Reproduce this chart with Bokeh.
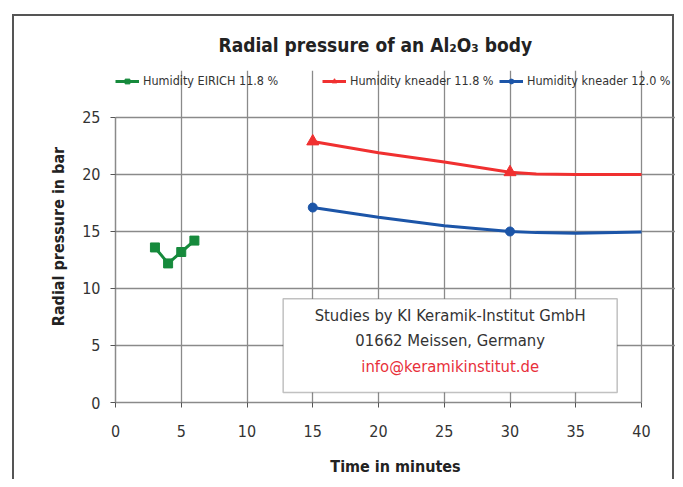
from bokeh.plotting import figure
from bokeh.models import (Legend, LegendItem, BoxAnnotation, Label, Range1d,
                          FixedTicker)
from bokeh.embed import file_html
from bokeh.resources import INLINE

# ---- data ----
eirich_x = [3, 4, 5, 6]
eirich_y = [13.6, 12.2, 13.2, 14.2]

kn118_line_x = [15, 20, 25, 30, 32, 35, 40]
kn118_line_y = [22.9, 21.9, 21.1, 20.2, 20.05, 20.0, 20.0]
kn118_mark_x = [15, 30]
kn118_mark_y = [22.9, 20.2]

kn120_line_x = [15, 20, 25, 30, 32, 35, 40]
kn120_line_y = [17.1, 16.25, 15.5, 15.0, 14.9, 14.85, 14.95]
kn120_mark_x = [15, 30]
kn120_mark_y = [17.1, 15.0]

x_ticks = [0, 5, 10, 15, 20, 25, 30, 35, 40]
y_ticks = [0, 5, 10, 15, 20, 25]
x_max = 40
y_max = 25

FONT = "DejaVu Sans Condensed"
GREEN = "#168a3c"
RED = "#f03030"
BLUE = "#1c55a8"
GRID = "#8a8a8a"

# frame extends above y=25 and right of x=40 to hold the legend row
# (grid and axes are bounded to the data area)
p = figure(width=675, height=479, output_backend="svg", toolbar_location=None,
           x_range=Range1d(0, 42.585), y_range=Range1d(0, 29.12),
           min_border_left=115, min_border_right=0,
           min_border_top=70, min_border_bottom=77,
           title="Radial pressure of an Al\u2082O\u2083 body")

p.title.text_font = FONT
p.title.text_font_size = "19px"
p.title.text_font_style = "bold"
p.title.text_color = "#222222"
p.title.align = "left"
p.title.offset = 103
p.title.standoff = 30

p.outline_line_color = None
p.background_fill_alpha = 0
p.border_fill_alpha = 0
p.styles = {
    "background": "linear-gradient(#555,#555) 12px 14px / 2px 100% no-repeat, "
                  "linear-gradient(#555,#555) 12px 14px / 662px 2px no-repeat, "
                  "linear-gradient(#555,#555) 672px 14px / 2px 100% no-repeat, "
                  "white",
}

for ax in (p.xaxis[0], p.yaxis[0]):
    ax.axis_line_color = GRID
    ax.axis_line_width = 1.5
    ax.major_tick_line_color = "#555555"
    ax.major_tick_out = 5
    ax.major_tick_in = 0
    ax.minor_tick_line_color = None
    ax.major_label_text_font = FONT
    ax.major_label_text_font_size = "16px"
    ax.major_label_text_color = "#333333"
    ax.axis_label_text_font = FONT
    ax.axis_label_text_font_style = "bold"
    ax.axis_label_text_font_size = "16px"
    ax.axis_label_text_color = "#222222"

p.xaxis.bounds = (0, x_max)
p.yaxis.bounds = (0, y_max)
p.xaxis.ticker = FixedTicker(ticks=x_ticks)
p.yaxis.ticker = FixedTicker(ticks=y_ticks)
p.xaxis.axis_label = "Time in minutes"
p.yaxis.axis_label = "Radial pressure in bar"
p.xaxis.major_label_standoff = 17
p.yaxis.major_label_standoff = 10
p.xaxis.axis_label_standoff = 17
p.yaxis.axis_label_standoff = 11

p.xgrid.ticker = FixedTicker(ticks=x_ticks)
p.ygrid.ticker = FixedTicker(ticks=y_ticks)
p.xgrid.bounds = (0, y_max)
p.ygrid.bounds = (0, x_max)
for g in (p.xgrid[0], p.ygrid[0]):
    g.grid_line_color = GRID
    g.grid_line_width = 1.3

# ---- series ----
g_line = p.line(eirich_x, eirich_y, line_color=GREEN, line_width=3)
g_mark = p.scatter(eirich_x, eirich_y, marker="square", size=9,
                   fill_color=GREEN, line_color=GREEN)

r_line = p.line(kn118_line_x, kn118_line_y, line_color=RED, line_width=3)
r_mark = p.scatter(kn118_mark_x, kn118_mark_y, marker="triangle", size=12,
                   fill_color=RED, line_color=RED)

b_line = p.line(kn120_line_x, kn120_line_y, line_color=BLUE, line_width=3)
b_mark = p.scatter(kn120_mark_x, kn120_mark_y, marker="circle", size=9,
                   fill_color=BLUE, line_color=BLUE)

# ---- legends (three separate items, placed like the reference) ----
legend_specs = [
    ("Humidity EIRICH 11.8 %", [g_line, g_mark], 0),
    ("Humidity kneader 11.8 %", [r_line, r_mark], 207),
    ("Humidity kneader 12.0 %", [b_line, b_mark], 384),
]
for label, rends, xoff in legend_specs:
    lg = Legend(items=[LegendItem(label=label, renderers=rends)],
                location=(xoff, 314), orientation="horizontal",
                label_text_font=FONT, label_text_font_size="12.5px",
                label_text_color="#333333", glyph_width=24, glyph_height=12,
                label_standoff=4, padding=0, margin=0, spacing=0,
                label_height=14, border_line_color=None,
                background_fill_alpha=0)
    p.add_layout(lg, "center")

# ---- studies box ----
box = BoxAnnotation(left=12.75, right=38.15, bottom=0.88, top=9.1,
                    fill_color="white", fill_alpha=1.0,
                    line_color="#333333", line_width=1.5)
p.add_layout(box)

lines = [
    ("Studies by KI Keramik-Institut GmbH", 7.6, "#333333"),
    ("01662 Meissen, Germany", 5.4, "#333333"),
    ("info@keramikinstitut.de", 3.2, "#e8303a"),
]
for txt, yy, col in lines:
    p.add_layout(Label(x=25.45, y=yy, text=txt, text_align="center",
                       text_baseline="middle", text_font=FONT,
                       text_font_size="16.5px", text_color=col))

open("out.html", "w").write(file_html(p, INLINE))
